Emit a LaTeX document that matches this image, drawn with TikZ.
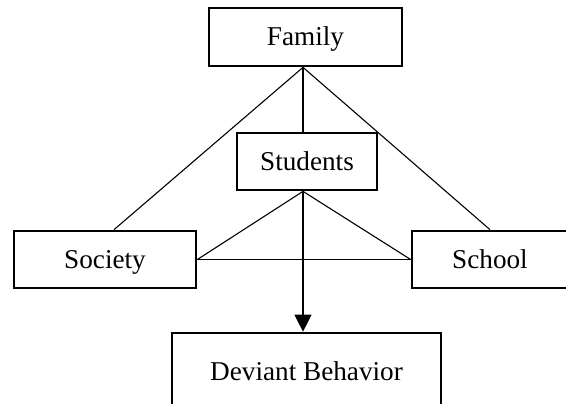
\documentclass[tikz,border=0pt]{standalone}
\usepackage{fontspec}
\setmainfont{Liberation Serif}
\usetikzlibrary{arrows.meta}
\begin{document}
\begin{tikzpicture}[x=0.5pt,y=-0.5pt,
  box/.style={draw, line width=1.35pt, inner sep=0pt, minimum height=28.5pt,
    text height=10.4pt, text depth=1.6pt,
    font=\fontsize{13.6}{16}\selectfont},
  link/.style={line width=0.55pt}]
\useasboundingbox (0,0) rectangle (566,403);
\clip (0,0) rectangle (566,403);
\node[box, minimum width=96.5pt, minimum height=29pt] (F) at (305.5,37) {Family};
\node[box, minimum width=70pt] (S) at (307,161.5) {Students};
\node[box, minimum width=91pt] (So) at (105,259.5) {Society};
\node[box, minimum width=78pt] (Sc) at (490,259.5) {School};
\node[box, minimum width=134.5pt, minimum height=39pt] (D) at (306.5,372) {Deviant Behavior};
\coordinate (ft) at ([xshift=-1.25pt]F.south);
\draw[link] (ft) -- ([xshift=4.5pt]So.north);
\draw[link] (ft) -- (Sc.north);
\draw[link] (ft) -- (ft |- S.north);
\coordinate (sb) at (ft |- S.south);
\draw[link] (sb) -- (So.east);
\draw[link] (sb) -- (Sc.west);
\draw[link] (So.east) -- (Sc.west);
\draw[link, -{Triangle[width=8.5pt,length=8.5pt]}] (sb) -- (sb |- D.north);
\end{tikzpicture}
\end{document}
